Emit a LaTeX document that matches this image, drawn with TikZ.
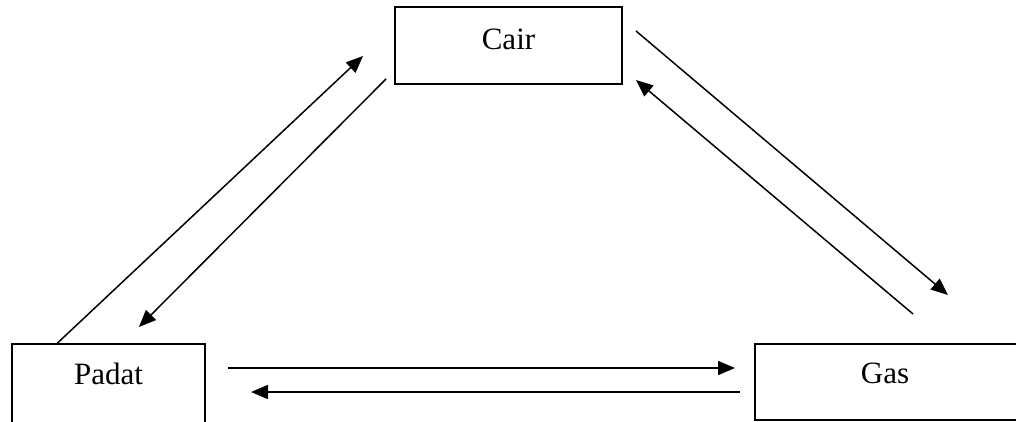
\documentclass[tikz,border=0pt]{standalone}
\usepackage{fontspec}
\setmainfont{Liberation Serif}
\usetikzlibrary{arrows.meta,calc}
\tikzset{
  box/.style={draw, line width=1.5pt, inner sep=0pt, minimum width=#1},
  lbl/.style={anchor=base, font=\fontsize{31}{36}\selectfont, inner sep=0pt},
  conn/.style={line width=1.5pt, -{Triangle[length=17pt,width=14pt]}}
}
\begin{document}
\begin{tikzpicture}[x=1pt,y=-1pt]
\useasboundingbox (0,0) rectangle (1016,421);
\clip (0,0) rectangle (1016,421);
% boxes
\node[box=227pt, minimum height=77pt] (cair) at (508.5,45.5) {};
\node[box=193pt, minimum height=84pt] (padat) at (108.5,386) {};
\node[box=261.5pt, minimum height=76pt] (gas) at (885.75,382) {};
% labels
\node[lbl] (tcair) at (508.5,49) {Cair};
\node[lbl] (tpadat) at (108.5,384) {Padat};
\node[lbl] (tgas) at (885,383) {Gas};
% connector end points
\coordinate (a1) at ($(padat.north west)+(46,0)$);
\coordinate (b1) at (363,56);
\coordinate (a2) at (386,79);
\coordinate (b2) at (139,327);
\coordinate (a3) at (636,31);
\coordinate (b3) at (948,295);
\coordinate (a4) at (913,314);
\coordinate (b4) at (636,80);
\coordinate (a5) at (228,368);
\coordinate (b5) at (735,368);
\coordinate (a6) at (740,392);
\coordinate (b6) at (251,392);
% connectors
\draw[conn] (a1) -- (b1);
\draw[conn] (a2) -- (b2);
\draw[conn] (a3) -- (b3);
\draw[conn] (a4) -- (b4);
\draw[conn] (a5) -- (b5);
\draw[conn] (a6) -- (b6);
\end{tikzpicture}
\end{document}
